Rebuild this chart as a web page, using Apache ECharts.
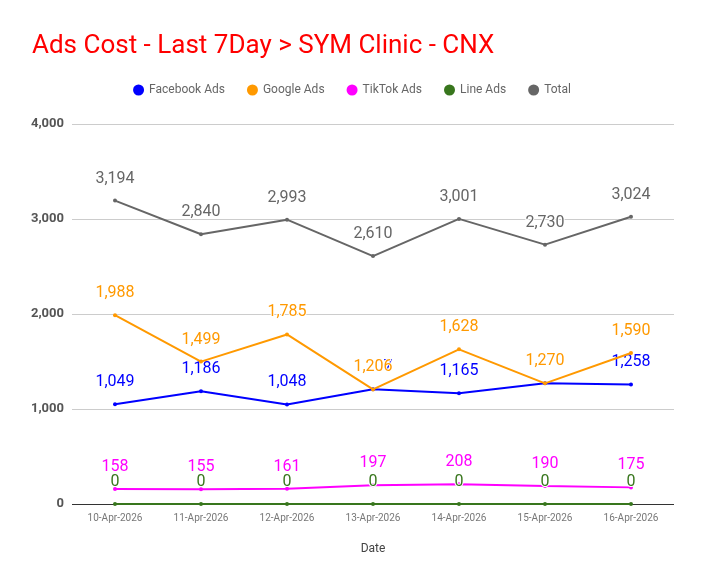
<!DOCTYPE html>
<html><head><meta charset="utf-8">
<script src="https://cdn.jsdelivr.net/npm/echarts@6/dist/echarts.min.js"></script>
<style>html,body{margin:0;padding:0;background:#fff}#c{width:704px;height:585px}</style>
</head><body><div id="c"></div>
<script>
const categories = ['10-Apr-2026','11-Apr-2026','12-Apr-2026','13-Apr-2026','14-Apr-2026','15-Apr-2026','16-Apr-2026'];
const facebookAds = [1049, 1186, 1048, 1207, 1165, 1270, 1258];
const googleAds = [1988, 1499, 1785, 1206, 1628, 1270, 1590];
const tiktokAds = [158, 155, 161, 197, 208, 190, 175];
const lineAds = [0, 0, 0, 0, 0, 0, 0];
const total = [3194, 2840, 2993, 2610, 3001, 2730, 3024];
const yTicks = [0, 1000, 2000, 3000, 4000];

const chart = echarts.init(document.getElementById('c'));
function mk(name, data, color, z) {
  return {
    name, type: 'line', data, z,
    symbol: 'circle', symbolSize: 4,
    lineStyle: { width: 2, color },
    itemStyle: { color },
    label: {
      show: true, position: 'top', distance: 12, color,
      fontFamily: 'Roboto', fontSize: 16,
      textBorderColor: '#fff', textBorderWidth: 2,
      formatter: p => p.value.toLocaleString('en-US')
    },
    emphasis: { disabled: true },
    animation: false
  };
}
chart.setOption({
  animation: false,
  title: {
    text: 'Ads Cost - Last 7Day > SYM Clinic - CNX',
    left: 27, top: 28,
    textStyle: { color: '#ff0000', fontFamily: 'Roboto', fontSize: 26, fontWeight: 'normal' }
  },
  legend: {
    top: 79, left: 'center', icon: 'circle', itemWidth: 11, itemHeight: 11, itemGap: 22,
    textStyle: { color: '#666', fontFamily: 'Roboto', fontSize: 12 },
    data: ['Facebook Ads','Google Ads','TikTok Ads','Line Ads','Total']
  },
  grid: { left: 72, right: 30, top: 124, bottom: 81, containLabel: false },
  xAxis: {
    type: 'category', data: categories, boundaryGap: true,
    name: 'Date', nameLocation: 'middle', nameGap: 39,
    nameTextStyle: { color: '#444', fontFamily: 'Roboto', fontSize: 12 },
    axisLine: { show: false },
    axisTick: { show: false },
    axisLabel: { color: '#777', fontFamily: 'Roboto', fontSize: 10, margin: 9 }
  },
  yAxis: {
    type: 'value', min: yTicks[0], max: yTicks[yTicks.length-1], interval: 1000,
    axisLine: { show: false }, axisTick: { show: false },
    axisLabel: { color: '#555', fontFamily: 'Roboto', fontSize: 13, fontWeight: 'bold', margin: 8,
      formatter: v => v.toLocaleString('en-US') },
    splitLine: { lineStyle: { color: '#cccccc', width: 1 } }
  },
  series: [
    mk('Facebook Ads', facebookAds, '#0000ff', 3),
    mk('Google Ads', googleAds, '#ff9900', 4),
    mk('TikTok Ads', tiktokAds, '#ff00ff', 2),
    Object.assign(mk('Line Ads', lineAds, '#38761d', 5), {
      markLine: { silent: true, symbol: 'none', label: { show: false },
        lineStyle: { color: '#333', width: 1, type: 'solid' }, data: [{ yAxis: 0 }], z: 1 }
    }),
    mk('Total', total, '#666666', 6)
  ]
});
</script></body></html>
